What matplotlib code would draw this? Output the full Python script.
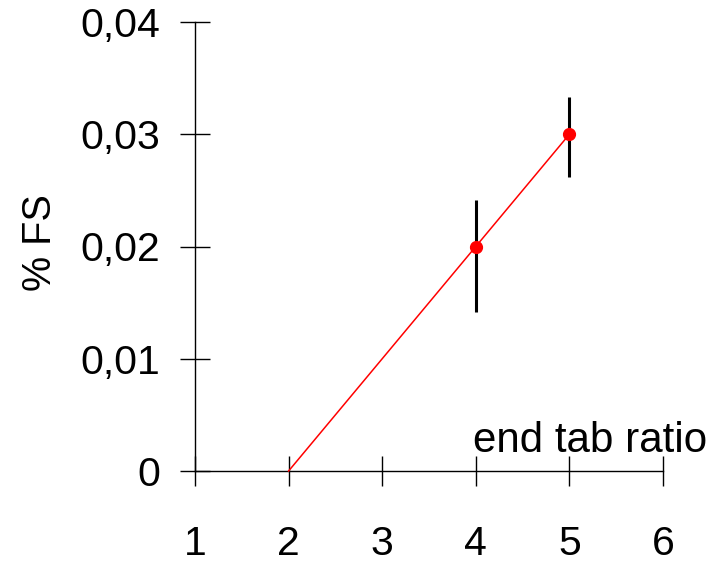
import matplotlib
matplotlib.use("Agg")
import matplotlib.pyplot as plt
import numpy as np

plt.rcParams['font.family'] = ['Liberation Sans', 'DejaVu Sans']

# data
x_line = [2, 4, 5]
y_line = [0.0, 0.020, 0.030]
x_pts = [4, 5]
y_pts = [0.020, 0.030]
err_low = [0.0142, 0.0262]
err_high = [0.0241, 0.0333]
x_ticks = [1, 2, 3, 4, 5, 6]
y_ticks = [0, 0.01, 0.02, 0.03, 0.04]
y_ticklabels = ['0', '0,01', '0,02', '0,03', '0,04']
x_label = 'end tab ratio'
y_label = '% FS'

W, H = 720, 564
fig = plt.figure(figsize=(W / 100, H / 100), dpi=100)
ax = fig.add_axes([195 / W, (H - 471) / H, 468 / W, 449 / H])

ax.set_xlim(1, 6)
ax.set_ylim(0, 0.04)

yerr = [np.array(y_pts) - np.array(err_low), np.array(err_high) - np.array(y_pts)]
ax.errorbar(x_pts, y_pts, yerr=yerr, fmt='none', ecolor='black', elinewidth=2.2, capsize=0, zorder=2, clip_on=False)
ax.plot(x_line, y_line, color='red', lw=1.1, zorder=3, clip_on=False)
ax.plot(x_pts, y_pts, 'o', color='red', markersize=8.5, zorder=4, clip_on=False)

for s in ['top', 'right']:
    ax.spines[s].set_visible(False)
for s in ['left', 'bottom']:
    ax.spines[s].set_linewidth(1.0)

ax.set_xticks(x_ticks)
ax.set_xticklabels([str(v) for v in x_ticks])
ax.set_yticks(y_ticks)
ax.set_yticklabels(y_ticklabels)
ax.tick_params(axis='both', direction='inout', length=21.6, width=1.0, labelsize=29.5)
ax.tick_params(axis='x', pad=28)
ax.tick_params(axis='y', pad=14.5)

ax.text((707 - 195) / 468, (471 - 452) / 449, x_label, transform=ax.transAxes,
        ha='right', va='baseline', fontsize=30.3)
fig.text(40 / W, (H - 243) / H, y_label, rotation=90, ha='center', va='center', fontsize=28.5)

fig.savefig('out.png', dpi=100)
